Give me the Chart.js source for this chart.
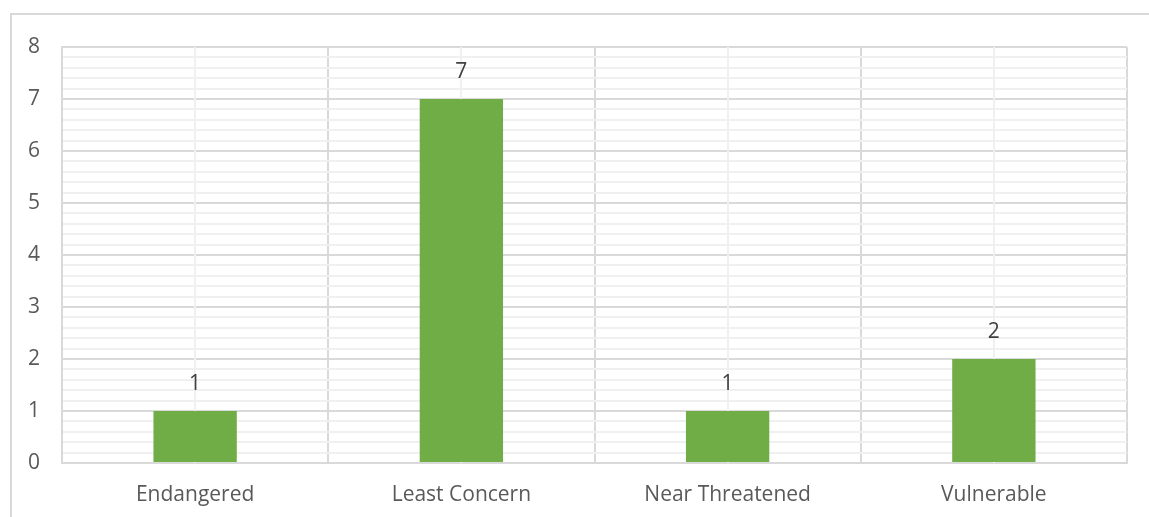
<!DOCTYPE html>
<html>
<head>
<meta charset="utf-8">
<script src="https://cdn.jsdelivr.net/npm/chart.js@4"></script>
<style>
  html, body { margin: 0; padding: 0; background: #ffffff; }
  #wrap { width: 1149px; height: 517px; }
</style>
</head>
<body>
<div id="wrap"><canvas id="c" width="1149" height="517"></canvas></div>
<script>
// Species count per conservation status
const categories = ['Endangered', 'Least Concern', 'Near Threatened', 'Vulnerable'];
const counts = [1, 7, 1, 2];
const yTickValues = [0, 1, 2, 3, 4, 5, 6, 7, 8];

const FONT = '"Open Sans", Lato, "Liberation Sans", sans-serif';
const isMajor = v => Math.abs(v - Math.round(v)) < 1e-6;

// Outer frame, minor vertical lines at category centres, value labels
const decor = {
  id: 'decor',
  beforeDraw(chart) {
    const ctx = chart.ctx;
    ctx.save();
    ctx.fillStyle = '#ffffff';
    ctx.fillRect(0, 0, chart.width, chart.height);
    ctx.strokeStyle = '#d9d9d9';
    ctx.lineWidth = 2;
    ctx.beginPath();
    ctx.moveTo(11, chart.height + 2);
    ctx.lineTo(11, 14);
    ctx.lineTo(chart.width + 2, 14);
    ctx.stroke();
    ctx.restore();
  },
  beforeDatasetsDraw(chart) {
    const ctx = chart.ctx;
    const x = chart.scales.x;
    const area = chart.chartArea;
    ctx.save();
    ctx.strokeStyle = '#f0f0f0';
    ctx.lineWidth = 2;
    categories.forEach((c, i) => {
      const px = Math.round(x.getPixelForValue(i));
      ctx.beginPath();
      ctx.moveTo(px, area.top);
      ctx.lineTo(px, area.bottom);
      ctx.stroke();
    });
    ctx.restore();
  },
  afterDatasetsDraw(chart) {
    const ctx = chart.ctx;
    const meta = chart.getDatasetMeta(0);
    ctx.save();
    ctx.fillStyle = '#404040';
    ctx.font = '21px ' + FONT;
    ctx.textAlign = 'center';
    ctx.textBaseline = 'alphabetic';
    meta.data.forEach((bar, i) => {
      ctx.fillText(String(counts[i]), bar.x, bar.y - 21);
    });
    ctx.restore();
  }
};

new Chart(document.getElementById('c'), {
  type: 'bar',
  data: {
    labels: categories,
    datasets: [{
      data: counts,
      backgroundColor: '#70ad47',
      borderWidth: 0,
      categoryPercentage: 1,
      barPercentage: 0.313
    }]
  },
  options: {
    responsive: false,
    animation: false,
    devicePixelRatio: 1,
    layout: { padding: { top: 47, right: 22, left: 0, bottom: 0 } },
    plugins: { legend: { display: false }, tooltip: { enabled: false } },
    scales: {
      x: {
        offset: true,
        grid: { offset: true, color: '#d9d9d9', lineWidth: 2, drawTicks: false },
        border: { color: '#d9d9d9', width: 2 },
        ticks: { color: '#595959', font: { family: FONT, size: 21 }, padding: 19 },
        afterFit(s) { s.height = 54; }
      },
      y: {
        min: 0,
        max: 8,
        grid: {
          drawTicks: false,
          color: c => isMajor(c.tick.value) ? '#d9d9d9' : '#f0f0f0',
          lineWidth: 2
        },
        border: { color: '#d9d9d9', width: 2 },
        ticks: {
          stepSize: 0.2,
          autoSkip: false,
          color: '#595959',
          font: { family: FONT, size: 21 },
          padding: 22,
          callback: v => {
            const r = Math.round(v);
            return isMajor(v) && yTickValues.includes(r) ? String(r) : '';
          }
        },
        afterFit(s) { s.width = 62; }
      }
    }
  },
  plugins: [decor]
});
</script>
</body>
</html>
